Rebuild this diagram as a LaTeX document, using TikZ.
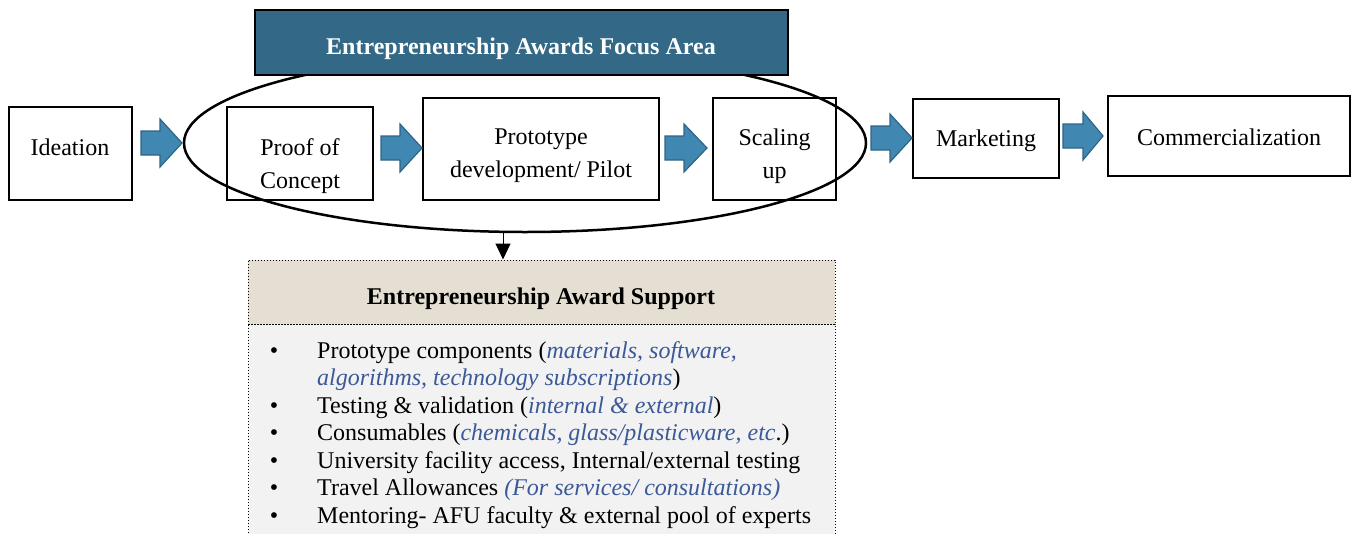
\documentclass[tikz,border=0pt]{standalone}
\usepackage{fontspec}
\setmainfont{Liberation Serif}
\usetikzlibrary{shapes.geometric,arrows.meta,calc}
\definecolor{bannerblue}{RGB}{51,105,134}
\definecolor{arrowfill}{RGB}{64,136,178}
\definecolor{arrowedge}{RGB}{47,100,135}
\definecolor{hdrbeige}{RGB}{229,222,211}
\definecolor{bodygray}{RGB}{242,242,242}
\definecolor{itblue}{RGB}{59,89,152}
\newcommand\itb[1]{\textcolor{itblue}{\itshape #1}}
\newcommand\blockarr[4]{% x0, xhead, xtip, yc
  \filldraw[arrowstyle] (#1,#4-12) -- (#2,#4-12) -- (#2,#4-24) -- (#3,#4) -- (#2,#4+24) -- (#2,#4+12) -- (#1,#4+12) -- cycle;}
\begin{document}
\begin{tikzpicture}[x=1pt,y=-1pt,
  stagebox/.style={draw=black,line width=2pt,fill=white,inner sep=0pt},
  stagetext/.style={font=\fontsize{24}{33}\selectfont,align=center,inner sep=0pt},
  arrowstyle/.style={fill=arrowfill,draw=arrowedge,line width=1.2pt,line join=miter},
  itemtext/.style={font=\fontsize{24}{27.5}\selectfont,anchor=base west,inner sep=0pt},
  bullettext/.style={font=\fontsize{24}{27.5}\selectfont,anchor=base,inner sep=0pt}]
\useasboundingbox (0,0) rectangle (1351,533);
% stage boxes
\node[stagebox,minimum width=123,minimum height=93] (ide) at (70.5,153.5) {};
\node[stagebox,minimum width=146,minimum height=93] (poc) at (300,153.5) {};
\node[stagebox,minimum width=236,minimum height=102] (pro) at (541,148.5) {};
\node[stagebox,minimum width=123,minimum height=102] (sca) at (774.5,148.5) {};
\node[stagebox,minimum width=146,minimum height=79] (mkt) at (986,138.5) {};
\node[stagebox,minimum width=242,minimum height=80] (com) at (1229,136) {};
\node[stagetext] (ideT) at (70,147) {Ideation};
\node[stagetext] (pocT) at (300,166) {Proof of\\Concept};
\node[stagetext] (proT) at (541,156) {Prototype\\development/ Pilot};
\node[stagetext] (scaT) at (774.5,156) {Scaling\\up};
\node[stagetext] (mktT) at (986,141) {Marketing};
\node[stagetext] (comT) at (1229,137) {Commercialization};
% ellipse
\node[ellipse,draw=black,line width=2.5pt,minimum width=682,minimum height=178,inner sep=0pt] (ell) at (525,143) {};
% banner
\node[draw=black,line width=2pt,fill=bannerblue,minimum width=533,minimum height=65,inner sep=0pt] (ban) at (521,42.5) {};
\node[text=white,font=\fontsize{24}{28}\selectfont\bfseries,inner sep=0pt] (banT) at (521,49) {Entrepreneurship Awards Focus Area};
% block arrows
\blockarr{141}{160}{182}{143}
\blockarr{381}{400}{422}{148}
\blockarr{665}{684}{707}{148}
\blockarr{871}{890}{912}{138}
\blockarr{1063}{1083}{1103}{136}
% support box
\node[draw=black,dotted,line width=1pt,fill=bodygray,minimum width=587,minimum height=226,inner sep=0pt] (body) at (541.5,437) {};
\node[draw=black,dotted,line width=1pt,fill=hdrbeige,minimum width=587,minimum height=64,inner sep=0pt] (hdr) at (541.5,292) {};
\node[font=\fontsize{24}{28}\selectfont\bfseries,inner sep=0pt] (hdrT) at (541,299) {Entrepreneurship Award Support};
\draw[line width=1pt,-{Triangle[length=16pt,width=15pt]}] ([xshift=-22pt]ell.south) -- ([xshift=-38.5pt]hdr.north);
% items
\node[bullettext] (b1) at (274,358) {\textbullet};
\node[itemtext] (i1) at (317,358) {Prototype components (\itb{materials, software,}};
\node[itemtext] (i1b) at (317,385.5) {\itb{algorithms, technology subscriptions})};
\node[bullettext] (b2) at (274,413) {\textbullet};
\node[itemtext] (i2) at (317,413) {Testing \& validation (\itb{internal \& external})};
\node[bullettext] (b3) at (274,440.5) {\textbullet};
\node[itemtext] (i3) at (317,440.5) {Consumables (\itb{chemicals, glass/plasticware, etc}.)};
\node[bullettext] (b4) at (274,468) {\textbullet};
\node[itemtext] (i4) at (317,468) {University facility access, Internal/external testing};
\node[bullettext] (b5) at (274,495.5) {\textbullet};
\node[itemtext] (i5) at (317,495.5) {Travel Allowances \itb{(For services/ consultations)}};
\node[bullettext] (b6) at (274,523) {\textbullet};
\node[itemtext] (i6) at (317,523) {Mentoring- AFU faculty \& external pool of experts};
\end{tikzpicture}
\end{document}
